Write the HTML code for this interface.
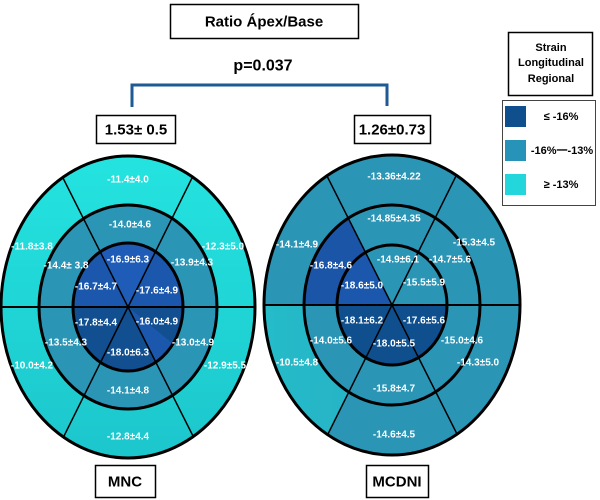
<!DOCTYPE html>
<html><head><meta charset="utf-8"><style>
html,body{margin:0;padding:0;background:#fff;width:600px;height:500px;overflow:hidden;}
svg{display:block;font-family:"Liberation Sans",sans-serif;}
.t{fill:#fff;font-size:10px;font-weight:bold;text-anchor:middle;dominant-baseline:central;}
.b{font-weight:bold;fill:#000;text-anchor:middle;dominant-baseline:central;}
</style></head><body>
<svg width="600" height="500" viewBox="0 0 600 500" xmlns="http://www.w3.org/2000/svg">
<defs>
<linearGradient id="cy" x1="0" y1="0" x2="0" y2="1"><stop offset="0" stop-color="#24e4e0"/><stop offset="1" stop-color="#1cc6cc"/></linearGradient>
<linearGradient id="cy2" x1="0" y1="0" x2="1" y2="0"><stop offset="0" stop-color="#22dcd8"/><stop offset="1" stop-color="#26b0c4"/></linearGradient>
<clipPath id="Lo"><path clip-rule="evenodd" d="M1,307a127,151 0 1,0 254,0a127,151 0 1,0 -254,0ZM39,307a89,102 0 1,0 178,0a89,102 0 1,0 -178,0Z"/></clipPath>
<clipPath id="Lm"><path clip-rule="evenodd" d="M39,307a89,102 0 1,0 178,0a89,102 0 1,0 -178,0ZM73,307a55,64 0 1,0 110,0a55,64 0 1,0 -110,0Z"/></clipPath>
<clipPath id="Li"><path d="M73,307a55,64 0 1,0 110,0a55,64 0 1,0 -110,0Z"/></clipPath>
<clipPath id="Lall"><path d="M1,307a127,151 0 1,0 254,0a127,151 0 1,0 -254,0Z"/></clipPath>
<clipPath id="Ro"><path clip-rule="evenodd" d="M264,305a128,150 0 1,0 256,0a128,150 0 1,0 -256,0ZM304,305a88,100 0 1,0 176,0a88,100 0 1,0 -176,0Z"/></clipPath>
<clipPath id="Rm"><path clip-rule="evenodd" d="M304,305a88,100 0 1,0 176,0a88,100 0 1,0 -176,0ZM337,305a55,60 0 1,0 110,0a55,60 0 1,0 -110,0Z"/></clipPath>
<clipPath id="Ri"><path d="M337,305a55,60 0 1,0 110,0a55,60 0 1,0 -110,0Z"/></clipPath>
<clipPath id="Rall"><path d="M264,305a128,150 0 1,0 256,0a128,150 0 1,0 -256,0Z"/></clipPath>
</defs>

<rect x="170.5" y="4.5" width="188" height="34" fill="#fff" stroke="#000" stroke-width="1.5"/>
<text class="b" x="264" y="22" font-size="15">Ratio Ápex/Base</text>
<text class="b" x="263" y="66" font-size="16">p=0.037</text>
<path d="M132,107V85H387V106" fill="none" stroke="#1e5a94" stroke-width="3"/>
<rect x="96.5" y="115.5" width="79" height="28" fill="#fff" stroke="#000" stroke-width="1.5"/>
<text class="b" x="136" y="130" font-size="15">1.53± 0.5</text>
<rect x="354.5" y="115.5" width="76" height="28" fill="#fff" stroke="#000" stroke-width="1.5"/>
<text class="b" x="392" y="130" font-size="15">1.26±0.73</text>

<rect x="508.5" y="32.5" width="84" height="63" fill="#fff" stroke="#000" stroke-width="1.5"/>
<text class="b" x="551" y="48" font-size="11">Strain</text>
<text class="b" x="551" y="63" font-size="11">Longitudinal</text>
<text class="b" x="551" y="79" font-size="11">Regional</text>
<rect x="502.5" y="100.5" width="93" height="105" fill="#fff" stroke="#444" stroke-width="1"/>
<rect x="505" y="106" width="21" height="21" fill="#0f4f8e"/>
<rect x="505" y="140" width="21" height="21" fill="#2893b8"/>
<rect x="505" y="174" width="21" height="21" fill="#22d6dc"/>
<text class="b" x="561" y="117" font-size="11">≤ -16%</text>
<text class="b" x="562" y="151" font-size="11">-16%一-13%</text>
<text class="b" x="561" y="185" font-size="11">≥ -13%</text>

<g clip-path="url(#Lo)"><rect x="0" y="150" width="260" height="310" fill="url(#cy)"/></g>
<g clip-path="url(#Lm)"><rect x="0" y="150" width="260" height="310" fill="#2b95b6"/></g>
<g clip-path="url(#Li)">
<rect x="0" y="150" width="260" height="310" fill="#1b58ad"/>
<polygon points="128,307 323,694 -64,694 -300,694 -300,307 600,307 600,694" fill="#114f90"/>
<polygon points="128,307 -67,-80 320,-80" fill="#1e5cb8"/>
</g>
<g clip-path="url(#Lall)" stroke="#000" stroke-width="1.5">
<line x1="0" y1="307" x2="260" y2="307" stroke-width="2"/>
<line x1="128" y1="307" x2="-67" y2="-80"/><line x1="128" y1="307" x2="320" y2="-80"/>
<line x1="128" y1="307" x2="323" y2="694"/><line x1="128" y1="307" x2="-64" y2="694"/>
</g>
<g fill="none" stroke="#000" stroke-width="3">
<ellipse cx="128" cy="307" rx="127" ry="151"/>
<ellipse cx="128" cy="307" rx="89" ry="102"/>
<ellipse cx="128" cy="307" rx="55" ry="64"/>
</g>
<g class="t">
<text x="128" y="180">-11.4±4.0</text>
<text x="32" y="247">-11.8±3.8</text>
<text x="223" y="247">-12.3±5.0</text>
<text x="130" y="225">-14.0±4.6</text>
<text x="66" y="266">-14.4± 3.8</text>
<text x="192" y="263">-13.9±4.3</text>
<text x="128" y="260">-16.9±6.3</text>
<text x="96" y="287">-16.7±4.7</text>
<text x="157" y="291">-17.6±4.9</text>
<text x="96" y="323">-17.8±4.4</text>
<text x="157" y="322">-16.0±4.9</text>
<text x="128" y="353">-18.0±6.3</text>
<text x="66" y="343">-13.5±4.3</text>
<text x="193" y="343">-13.0±4.9</text>
<text x="32" y="366">-10.0±4.2</text>
<text x="225" y="366">-12.9±5.5</text>
<text x="128" y="391">-14.1±4.8</text>
<text x="128" y="437">-12.8±4.4</text>
</g>
<rect x="95.5" y="465.5" width="60" height="32" fill="#fff" stroke="#000" stroke-width="1.5"/>
<text class="b" x="125" y="482" font-size="15">MNC</text>

<g clip-path="url(#Ro)">
<rect x="260" y="150" width="270" height="320" fill="#2b95b6"/>
<polygon points="392,305 200,692 -100,692 -100,305" fill="url(#cy2)"/>
</g>
<g clip-path="url(#Rm)">
<rect x="260" y="150" width="270" height="320" fill="#2b95b6"/>
<polygon points="392,305 -100,305 -100,-82 197,-82" fill="#1a55a8"/>
</g>
<g clip-path="url(#Ri)">
<rect x="260" y="150" width="270" height="320" fill="#2b95b6"/>
<polygon points="392,305 -100,305 -100,-82 197,-82" fill="#1b58ad"/>
<rect x="260" y="305" width="270" height="160" fill="#0f4f8e"/>
</g>
<g clip-path="url(#Rall)" stroke="#000" stroke-width="1.5">
<line x1="260" y1="305" x2="530" y2="305" stroke-width="2"/>
<line x1="392" y1="305" x2="197" y2="-82"/><line x1="392" y1="305" x2="584" y2="-82"/>
<line x1="392" y1="305" x2="587" y2="692"/><line x1="392" y1="305" x2="200" y2="692"/>
</g>
<g fill="none" stroke="#000" stroke-width="3">
<ellipse cx="392" cy="305" rx="128" ry="150"/>
<ellipse cx="392" cy="305" rx="88" ry="100"/>
<ellipse cx="392" cy="305" rx="55" ry="60"/>
</g>
<g class="t">
<text x="394" y="177">-13.36±4.22</text>
<text x="297" y="245">-14.1±4.9</text>
<text x="394" y="219">-14.85±4.35</text>
<text x="331" y="266">-16.8±4.6</text>
<text x="398" y="260">-14.9±6.1</text>
<text x="450" y="260">-14.7±5.6</text>
<text x="362" y="286">-18.6±5.0</text>
<text x="424" y="283">-15.5±5.9</text>
<text x="362" y="321">-18.1±6.2</text>
<text x="424" y="321">-17.6±5.6</text>
<text x="394" y="344">-18.0±5.5</text>
<text x="331" y="341">-14.0±5.6</text>
<text x="462" y="341">-15.0±4.6</text>
<text x="297" y="363">-10.5±4.8</text>
<text x="394" y="389">-15.8±4.7</text>
<text x="394" y="435">-14.6±4.5</text>
<text x="474" y="243">-15.3±4.5</text>
<text x="478" y="363">-14.3±5.0</text>
</g>
<rect x="366.5" y="465.5" width="62" height="32" fill="#fff" stroke="#000" stroke-width="1.5"/>
<text class="b" x="397" y="482" font-size="15">MCDNI</text>
</svg>
</body></html>
